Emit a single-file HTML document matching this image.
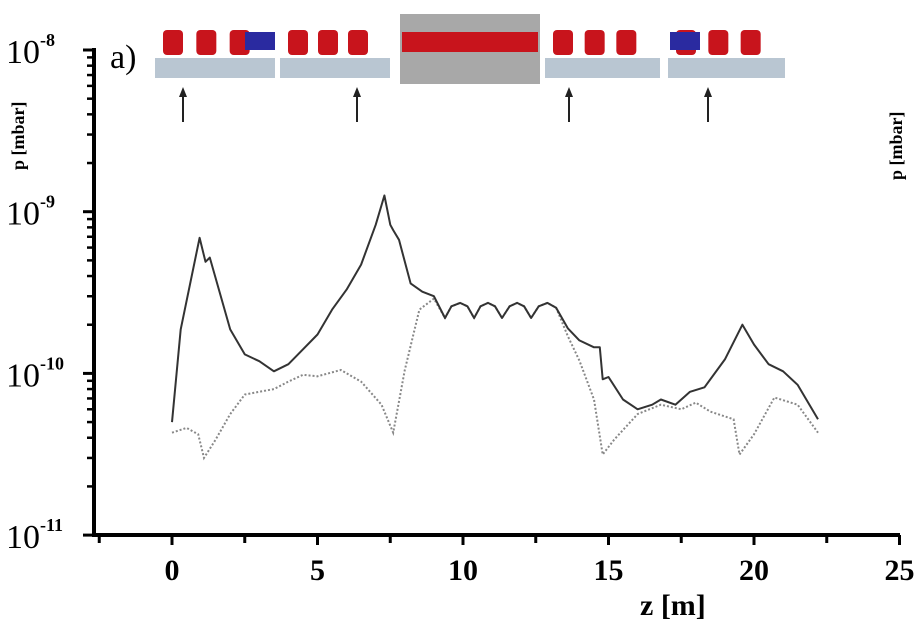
<!DOCTYPE html>
<html><head><meta charset="utf-8"><style>
body{margin:0;background:#fff;}
svg{display:block;font-family:"Liberation Serif",serif;}
</style></head><body>
<svg width="918" height="627" viewBox="0 0 918 627">
<g id="beamline"></g>
<g id="axes"></g>
<g id="series"></g>
<text x="110" y="68" font-size="34">a)</text>
<text transform="translate(24,170) rotate(-90)" font-size="18" font-weight="bold">p [mbar]</text>
<text transform="translate(902,180) rotate(-90)" font-size="18" font-weight="bold">p [mbar]</text>
<text x="640" y="615" font-size="30" font-weight="bold">z [m]</text>
<script>
const zSolid=[0,0.3,0.95,1.15,1.3,2,2.5,3,3.5,4,4.5,5,5.5,6,6.5,7,7.3,7.5,7.6,7.8,8.2,8.6,9.0,9.38,9.6,9.9,10.15,10.38,10.6,10.86,11.1,11.34,11.6,11.86,12.1,12.34,12.6,12.9,13.2,13.6,14,14.5,14.7,14.8,15,15.5,16,16.5,16.8,17.3,17.8,18.3,19,19.6,20,20.5,21,21.5,22.2];
const pSolid=[5.0e-11,1.87e-10,6.9e-10,4.9e-10,5.2e-10,1.87e-10,1.31e-10,1.19e-10,1.03e-10,1.14e-10,1.41e-10,1.74e-10,2.48e-10,3.3e-10,4.71e-10,8.3e-10,1.26e-9,8.3e-10,7.7e-10,6.7e-10,3.6e-10,3.2e-10,3.0e-10,2.2e-10,2.6e-10,2.73e-10,2.6e-10,2.2e-10,2.6e-10,2.73e-10,2.6e-10,2.2e-10,2.6e-10,2.73e-10,2.6e-10,2.2e-10,2.6e-10,2.73e-10,2.55e-10,1.9e-10,1.6e-10,1.45e-10,1.45e-10,9.2e-11,9.5e-11,6.9e-11,6.0e-11,6.4e-11,6.9e-11,6.4e-11,7.7e-11,8.2e-11,1.22e-10,2.0e-10,1.51e-10,1.14e-10,1.03e-10,8.5e-11,5.2e-11];
const zDot=[0,0.5,0.9,1.1,1.5,2,2.5,3,3.5,4,4.5,5,5.8,6.5,7.2,7.6,8,8.5,9.0,9.38,9.6,9.9,10.15,10.38,10.6,10.86,11.1,11.34,11.6,11.86,12.1,12.34,12.6,12.9,13.2,13.6,14,14.5,14.8,15.2,16,16.8,17.5,18,18.5,19.3,19.5,20,20.7,21.5,22.2];
const pDot=[4.3e-11,4.6e-11,4.2e-11,3.0e-11,3.9e-11,5.6e-11,7.4e-11,7.7e-11,8.0e-11,8.9e-11,9.8e-11,9.6e-11,1.05e-10,8.9e-11,6.4e-11,4.3e-11,1.05e-10,2.48e-10,2.9e-10,2.2e-10,2.6e-10,2.73e-10,2.6e-10,2.2e-10,2.6e-10,2.73e-10,2.6e-10,2.2e-10,2.6e-10,2.73e-10,2.6e-10,2.2e-10,2.6e-10,2.73e-10,2.55e-10,1.7e-10,1.2e-10,6.9e-11,3.15e-11,3.9e-11,5.6e-11,6.4e-11,6.0e-11,6.6e-11,5.8e-11,5.2e-11,3.15e-11,4.2e-11,7.1e-11,6.4e-11,4.3e-11];
const xTicks=[0,5,10,15,20,25];
const yExps=[-8,-9,-10,-11];
const NS='http://www.w3.org/2000/svg';
const X0=94,X1=900,Y0=50,Y1=535;
function xs(z){return 172+z*29.1;}
function ys(p){return Y0+(-8-Math.log10(p))*161.7;}
function mk(t,a,parent){const e=document.createElementNS(NS,t);for(const k in a)e.setAttribute(k,a[k]);parent.appendChild(e);return e;}
const ax=document.getElementById('axes');
const yl=mk('line',{x1:X0,y1:Y0-2,x2:X0,y2:Y1+2,stroke:'#000','stroke-width':4},ax);


const xl=mk('line',{x1:X0-2,y1:Y1,x2:X1,y2:Y1,stroke:'#000','stroke-width':4},ax);


for(let t=-2.5;t<=25.01;t+=2.5){const x=xs(t);const tk=mk('line',{x1:x,y1:Y1,x2:x,y2:Y1+(t%5===0?10:8),stroke:'#000','stroke-width':3},ax);

}
xTicks.forEach(v=>{const t=mk('text',{x:xs(v),y:Y1+45,'font-size':30,'font-weight':'bold','text-anchor':'middle'},ax);t.textContent=v;

});
yExps.forEach(e=>{const y=ys(Math.pow(10,e));
const tk=mk('line',{x1:X0-11,y1:y,x2:X0,y2:y,stroke:'#000','stroke-width':3},ax);


const t=mk('text',{x:6,y:y+13,'font-size':34},ax);t.textContent='10';


const s=mk('tspan',{dy:-17,'font-size':18,'font-weight':'bold'},t);s.textContent=String(e);
if(e>-11){for(let m=2;m<10;m++){const yy=ys(m*Math.pow(10,e-1));const mt=mk('line',{x1:X0-7,y1:yy,x2:X0,y2:yy,stroke:'#000','stroke-width':2.5},ax);

}}});
const se=document.getElementById('series');
function path(zs,ps){return zs.map((z,i)=>(i?'L':'M')+xs(z).toFixed(1)+' '+ys(ps[i]).toFixed(1)).join(' ');}
const d=mk('path',{d:path(zDot,pDot),fill:'none',stroke:'#888','stroke-width':2,'stroke-dasharray':'2 2'},se);


const s=mk('path',{d:path(zSolid,pSolid),fill:'none',stroke:'#333','stroke-width':2,'stroke-linejoin':'round'},se);


const bl=document.getElementById('beamline');
const segs=[[155,275],[280,390],[545,660],[668,785]];
segs.forEach(([a,b])=>{const r=mk('rect',{x:a,y:58,width:b-a,height:20,fill:'#b9c6d2'},bl);


for(let k=0;k<3;k++){const c=mk('rect',{x:a+8+k*(b-a-20)/3,y:30,width:20,height:25,fill:'#c8141c',rx:4},bl);

}});
const bm=mk('rect',{x:245,y:32,width:30,height:18,fill:'#2a2aa0'},bl);


const bm2=mk('rect',{x:670,y:32,width:30,height:18,fill:'#2a2aa0'},bl);


const cen=mk('rect',{x:400,y:14,width:140,height:70,fill:'#a8a8a8'},bl);


const cr=mk('rect',{x:402,y:32,width:136,height:20,fill:'#c8141c'},bl);


[183,357,569,708].forEach(x=>{const l=mk('line',{x1:x,y1:95,x2:x,y2:122,stroke:'#222','stroke-width':2},bl);


const h=mk('path',{d:`M${x-4} 97 L${x} 87 L${x+4} 97 Z`,fill:'#222'},bl);

});
</script>
</svg>
</body></html>
